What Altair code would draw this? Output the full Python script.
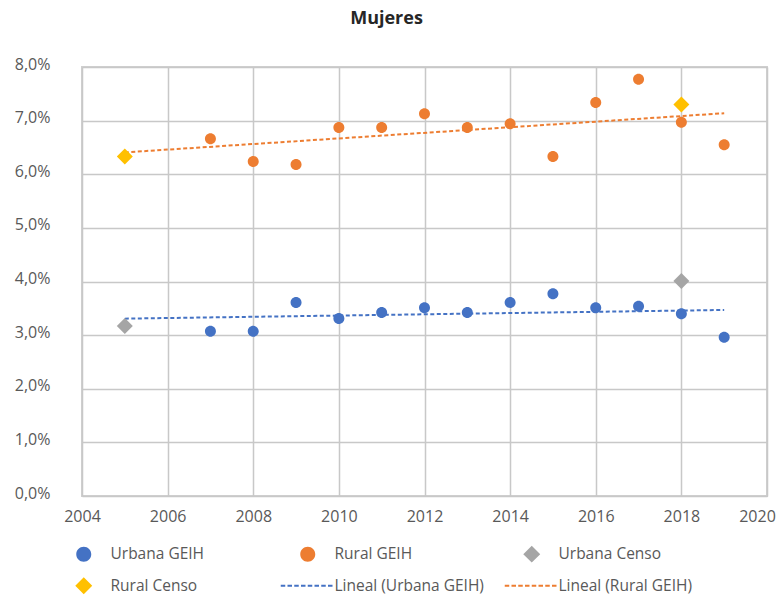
import altair as alt
import pandas as pd

# ---- data ----
years_geih = [2007, 2008, 2009, 2010, 2011, 2012, 2013, 2014, 2015, 2016, 2017, 2018, 2019]
urbana_geih = [3.07, 3.07, 3.61, 3.31, 3.42, 3.51, 3.42, 3.61, 3.77, 3.51, 3.54, 3.40, 2.96]
rural_geih = [6.66, 6.24, 6.18, 6.87, 6.87, 7.13, 6.87, 6.94, 6.33, 7.34, 7.77, 6.97, 6.55]
years_censo = [2005, 2018]
urbana_censo = [3.17, 4.01]
rural_censo = [6.33, 7.30]
x_ticks = list(range(2004, 2021, 2))
y_ticks = list(range(0, 9))

series = ["Urbana GEIH", "Rural GEIH", "Urbana Censo",
          "Rural Censo", "Lineal (Urbana GEIH)", "Lineal (Rural GEIH)"]
colors = ["#4472C4", "#ED7D31", "#A5A5A5", "#FFC000", "#4472C4", "#ED7D31"]

# symbol shapes (unit square -1..1); a zero-area anchor at the left keeps all
# legend entries with the same left bound so their labels line up
LEFT = -3.6
anchor = f"M{LEFT},0L{LEFT},0 "
circle_path = anchor + "M1,0A1,1,0,1,1,-1,0A1,1,0,1,1,1,0Z"
diamond_path = anchor + "M-1.13,0L0,-1.13L1.13,0L0,1.13Z"
dash_path = " ".join(
    f"M{LEFT + k * 0.9:.2f},-0.13H{LEFT + k * 0.9 + 0.6:.2f}V0.13H{LEFT + k * 0.9:.2f}Z"
    for k in range(8)
)
shapes = [circle_path, circle_path, diamond_path, diamond_path, dash_path, dash_path]

rows = []
for y, v in zip(years_geih, urbana_geih):
    rows.append({"year": y, "value": v, "serie": "Urbana GEIH"})
for y, v in zip(years_geih, rural_geih):
    rows.append({"year": y, "value": v, "serie": "Rural GEIH"})
for y, v in zip(years_censo, urbana_censo):
    rows.append({"year": y, "value": v, "serie": "Urbana Censo"})
for y, v in zip(years_censo, rural_censo):
    rows.append({"year": y, "value": v, "serie": "Rural Censo"})
df = pd.DataFrame(rows)

FONT = "Open Sans"
TXT = "#595959"

x = alt.X("year:Q", scale=alt.Scale(domain=[2004, 2020], nice=False),
          axis=alt.Axis(values=x_ticks, format="d", title=None,
                        grid=True, gridColor="#C8C8C8", gridWidth=1.5, domain=False,
                        ticks=False, labelPadding=12, labelFontSize=16, labelFlush=False,
                        # the last label sits on the page edge: nudge it inward
                        labelOffset={"condition": {"test": "datum.value == 2020", "value": -10},
                                     "value": 0},
                        labelColor=TXT, labelFont=FONT))
y = alt.Y("value:Q", scale=alt.Scale(domain=[0, 8], nice=False),
          axis=alt.Axis(values=y_ticks, title=None,
                        labelExpr="replace(format(datum.value, '.1f'), '.', ',') + '%'",
                        grid=True, gridColor="#C8C8C8", gridWidth=1.5, domain=False,
                        ticks=False, labelPadding=32, labelFontSize=16, labelFlush=False,
                        labelOffset=-3, labelColor=TXT, labelFont=FONT))

legend = alt.Legend(orient="none", legendX=-6, legendY=479, columns=3,
                    direction="horizontal",
                    gridAlign="all", columnPadding=20, rowPadding=14, title=None,
                    labelFont=FONT, labelFontSize=15.5, labelColor=TXT,
                    labelOffset=19, symbolOpacity=1, symbolStrokeWidth=0,
                    symbolSize=225)

enc = dict(
    x=x, y=y,
    color=alt.Color("serie:N", scale=alt.Scale(domain=series, range=colors), legend=legend),
    shape=alt.Shape("serie:N", scale=alt.Scale(domain=series, range=shapes), legend=legend),
)

geih_pts = alt.Chart(df).transform_filter(
    "indexof(datum.serie, 'GEIH') >= 0"
).mark_point(filled=True, opacity=1, strokeWidth=0, size=121).encode(**enc)

censo_pts = alt.Chart(df).transform_filter(
    "indexof(datum.serie, 'Censo') >= 0"
).mark_point(filled=True, opacity=1, strokeWidth=0, size=200).encode(**enc)

def trend(name, color):
    return alt.Chart(df).transform_filter(
        alt.datum.serie == name
    ).transform_regression("year", "value", extent=[2005, 2019]).mark_line(
        color=color, strokeDash=[4, 2.5], strokeWidth=2
    ).encode(x="year:Q", y="value:Q")

chart = alt.layer(
    geih_pts,
    trend("Urbana GEIH", "#4472C4"),
    trend("Rural GEIH", "#ED7D31"),
    censo_pts,
).properties(
    width=685, height=429,
    title=alt.TitleParams("Mujeres", fontSize=18, fontWeight="bold", color="#262626",
                          font=FONT, anchor="middle", offset=28, dx=-38),
    autosize=alt.AutoSizeParams(type="none"),
    padding={"left": 74, "top": 59, "right": 9, "bottom": 100},
).configure_view(stroke="#D0D0D0", strokeWidth=2)

chart.save("out.html", embed_options={"renderer": "svg", "actions": False})
